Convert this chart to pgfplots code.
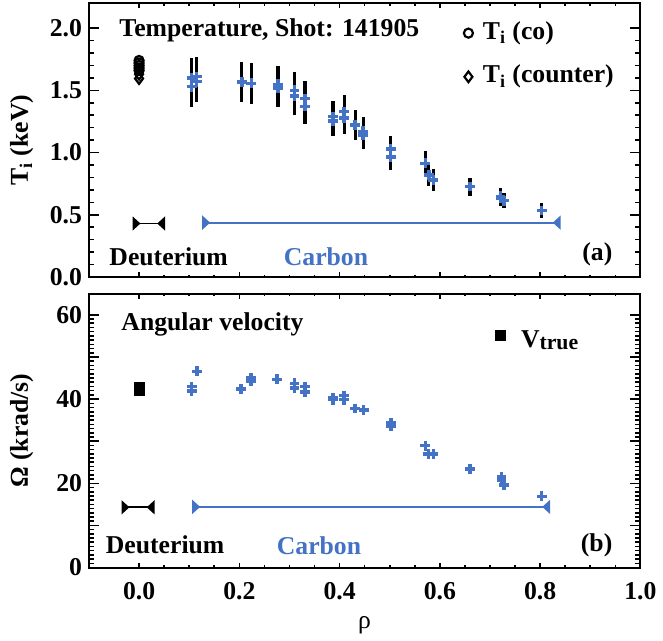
\documentclass[border=0pt]{standalone}
\usepackage{fontspec}
\setmainfont{Liberation Serif}
\usepackage{pgfplots}
\usepackage{pgfplotstable}
\pgfplotsset{compat=1.18}
\usetikzlibrary{arrows.meta,calc}
\definecolor{cblue}{RGB}{68,114,196}
\newcommand{\lbl}{\fontsize{13}{15}\selectfont\bfseries}

% ion temperature, carbon CER (rho, Ti, error)
\pgfplotstableread{
rho T err
0.105 1.60 0.16
0.105 1.53 0.16
0.115 1.61 0.16
0.115 1.57 0.16
0.205 1.566 0.16
0.224 1.556 0.165
0.277 1.548 0.15
0.277 1.52 0.15
0.310 1.50 0.15
0.310 1.455 0.15
0.331 1.434 0.14
0.331 1.37 0.14
0.387 1.29 0.125
0.387 1.256 0.125
0.409 1.33 0.13
0.409 1.28 0.13
0.431 1.222 0.12
0.447 1.17 0.115
0.447 1.143 0.115
0.502 1.03 0.105
0.502 0.966 0.105
0.571 0.913 0.10
0.578 0.82 0.09
0.587 0.78 0.087
0.660 0.727 0.072
0.721 0.648 0.068
0.721 0.635 0.068
0.728 0.614 0.06
0.803 0.534 0.06
}\tidata

% angular velocity (rho, Omega)
\pgfplotstableread{
rho W
0.105 42.96
0.105 41.96
0.116 46.6
0.203 42.35
0.223 45.07
0.223 44.3
0.275 44.7
0.310 43.75
0.310 42.6
0.331 42.96
0.331 41.65
0.387 40.25
0.387 39.86
0.409 40.8
0.409 39.86
0.431 37.75
0.448 37.36
0.503 34.4
0.503 33.6
0.571 28.95
0.577 27.0
0.587 27.0
0.660 23.4
0.723 21.6
0.723 20.8
0.728 19.6
0.803 16.9
}\omdata

\begin{document}
\begin{tikzpicture}
\pgfplotsset{
  panel/.style={
    scale only axis, width=279pt, height=138.5pt,
    xmin=-0.1, xmax=1.0,
    xtick={0,0.2,0.4,0.6,0.8,1.0}, minor x tick num=3,
    tick align=inside, tick pos=both,
    axis line style={line width=1pt},
    tick style={black, line width=0.8pt},
    major tick length=5.3pt, minor tick length=2.5pt,
    xtick style={/pgfplots/major tick length=2.4pt, /pgfplots/minor tick length=1.2pt},
    tick label style={font=\lbl},
    /pgf/number format/assume math mode=true,
    ylabel style={font=\lbl, at={(axis description cs:-0.122,0.5)}, anchor=center},
    clip=false,
  },
  rng/.style={line width=1pt, arrows={Triangle[reversed,length=4pt,width=7pt]-Triangle[reversed,length=4pt,width=7pt]}},
  cplus/.style={cblue, only marks, mark=+, mark size=2.5pt, mark options={line width=1.8pt}},
  co/.style={black, only marks, mark=o, mark size=2.3pt, mark options={line width=1.1pt}},
  ctr/.style={black, only marks, mark=diamond, mark size=2.7pt, mark options={line width=1.1pt}},
}

\begin{axis}[panel, name=top,
  ymin=0, ymax=2.2, ytick={0,0.5,1.0,1.5,2.0}, minor y tick num=4,
  yticklabel style={/pgf/number format/.cd, fixed, zerofill, precision=1},
  xticklabels={},
  ylabel={T\textsubscript{i} (keV)},
]
\addplot[draw=none, mark=none,
  error bars/.cd, y dir=both, y explicit, error mark=none,
  error bar style={draw=black, line width=1.6pt}]
  table[x=rho, y=T, y error=err] {\tidata};
\addplot[cplus] table[x=rho, y=T] {\tidata};
\addplot[co] coordinates {(0,1.74)(0,1.72)(0,1.70)(0,1.68)(0,1.66)};
\addplot[ctr] coordinates {(0,1.63)(0,1.595)};
% legend markers
\addplot[co] coordinates {(0.657,1.96)};
\addplot[ctr] coordinates {(0.657,1.609)};
% radial ranges
\addplot[black, rng] coordinates {(-0.013,0.43)(0.052,0.43)};
\addplot[cblue, rng] coordinates {(0.126,0.437)(0.841,0.437)};

\node[anchor=base west, font=\lbl] at (axis cs:-0.053,1.93) {Temperature, Shot: 141905};
\node[anchor=base west, font=\lbl] at (axis cs:0.672,1.91) {T\textsubscript{i} (co)};
\node[anchor=base west, font=\lbl] at (axis cs:0.672,1.561) {T\textsubscript{i} (counter)};
\node[anchor=base west, font=\lbl] at (axis cs:-0.073,0.09) {Deuterium};
\node[anchor=base west, font=\lbl, text=cblue] at (axis cs:0.275,0.09) {Carbon};
\node[anchor=base east, font=\lbl] at (axis cs:0.958,0.13) {(a)};
\end{axis}

\begin{axis}[panel, name=bot,
  at={($(top.south west)+(0,-8.5pt)$)}, anchor=north west,
  ymin=0, ymax=65, ytick={0,10,20,30,40,50,60}, yticklabels={0,,20,,40,,60},
  minor y tick num=9,
  xticklabel style={yshift=-4.2pt, /pgf/number format/.cd, fixed, zerofill, precision=1},
  ylabel={Ω (krad/s)},
  xlabel={ρ},
  xlabel style={font=\fontsize{13}{15}\selectfont, at={(axis description cs:0.5,0)}, anchor=base, yshift=-30.6pt},
]
\addplot[cplus] table[x=rho, y=W] {\omdata};
\addplot[black, only marks, mark=square*, mark size=2.5pt]
  coordinates {(0,42.0)(0,42.8)};
% legend marker
\addplot[black, only marks, mark=square*, mark size=2.5pt]
  coordinates {(0.721,55.15)};
% radial ranges
\addplot[black, rng] coordinates {(-0.035,14.3)(0.031,14.3)};
\addplot[cblue, rng] coordinates {(0.106,14.4)(0.82,14.4)};

\node[anchor=base west, font=\lbl] at (axis cs:-0.049,56.4) {Angular velocity};
\node[anchor=base west, font=\lbl] at (axis cs:0.748,52.3) {V\raisebox{-1pt}{\fontsize{11}{13}\selectfont true}};
\node[anchor=base west, font=\lbl] at (axis cs:-0.08,3.3) {Deuterium};
\node[anchor=base west, font=\lbl, text=cblue] at (axis cs:0.261,3.0) {Carbon};
\node[anchor=base east, font=\lbl] at (axis cs:0.958,3.7) {(b)};
\end{axis}

\path ($(top.north west)+(-45pt,1.65pt)$) rectangle ($(bot.south east)+(7.5pt,-36.2pt)$);
\end{tikzpicture}
\end{document}
